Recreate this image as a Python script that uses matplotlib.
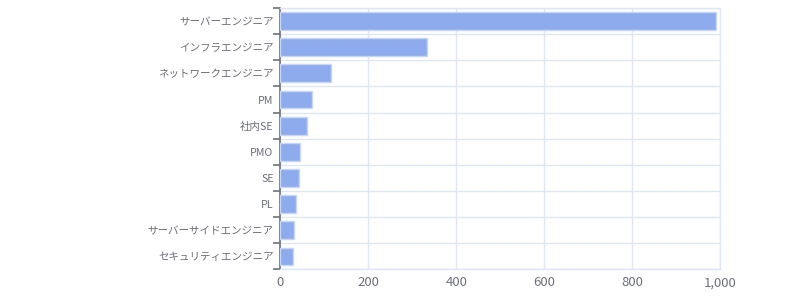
import matplotlib
matplotlib.use("Agg")
import matplotlib.pyplot as plt
import numpy as np

plt.rcParams['font.family'] = ['Noto Sans CJK JP', 'DejaVu Sans']

categories = ["サーバーエンジニア", "インフラエンジニア", "ネットワークエンジニア", "PM", "社内SE",
              "PMO", "SE", "PL", "サーバーサイドエンジニア", "セキュリティエンジニア"]
values = [991, 333, 115, 72, 60, 44, 43, 35, 31, 29]
xticks = [0, 200, 400, 600, 800, 1000]

fig = plt.figure(figsize=(8, 3), dpi=100)
ax = fig.add_axes([0.3506, 0.1017, 0.5494, 0.8716])

y = np.arange(len(categories))
ax.barh(y, values, height=0.68, color='#8eabee', edgecolor='#c8d6f6', linewidth=1.0, zorder=3)

ax.set_ylim(len(categories) - 0.5, -0.5)
ax.set_xlim(0, 1000)

ax.set_yticks(y)
ax.set_yticklabels(categories, fontsize=7.6, color='#6b6e76')
ax.set_yticks(np.arange(-0.5, len(categories), 1), minor=True)
ax.tick_params(axis='y', which='major', length=0, pad=5)
ax.tick_params(axis='y', which='minor', length=5, width=1.2, color='#6e7079')

ax.set_xticks(xticks)
ax.set_xticklabels([f"{v:,}" for v in xticks], fontsize=9.5, color='#6e7079')
ax.tick_params(axis='x', length=0, pad=5)

ax.grid(axis='x', which='major', color='#e0e6f1', linewidth=1, zorder=0)
ax.grid(axis='y', which='minor', color='#e0e6f1', linewidth=1, zorder=0)
ax.grid(axis='y', which='major', visible=False)

for s in ['top', 'right', 'bottom']:
    ax.spines[s].set_color('#e0e6f1')
    ax.spines[s].set_linewidth(1)
ax.spines['left'].set_color('#6e7079')
ax.spines['left'].set_linewidth(1.2)
ax.set_axisbelow(True)

fig.savefig('out.png', dpi=100)
